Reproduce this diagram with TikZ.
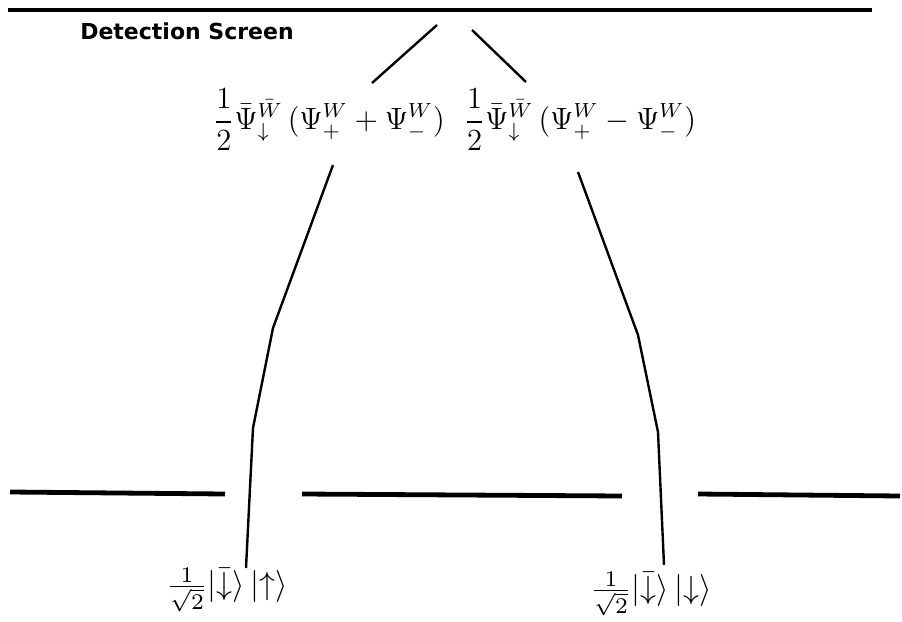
\documentclass[tikz,border=0pt]{standalone}
\usepackage{amsmath}
\usepackage{amssymb}
\usepackage{fontspec}
\newfontfamily\screenfont{DejaVu Sans}
\usetikzlibrary{arrows.meta}
\newcommand{\halfamp}{\frac{1}{2}}
\newcommand{\psibar}{\bar{\Psi}^{\bar{W}}_{\downarrow}}
\newcommand{\bigamp}[1]{\scalebox{1.28}{\large$\displaystyle #1$}}
\newcommand{\bigket}[1]{\scalebox{1.6}{$#1$}}

\begin{document}
\begin{tikzpicture}[x=0.5pt,y=-0.5pt,
  wall/.style={line width=2.4pt},
  ray/.style={line width=1.2pt}]
\useasboundingbox (0,0) rectangle (902,622);
% detection screen
\draw[wall] (8,10) -- (872,10);
\node[font=\screenfont\bfseries\fontsize{11}{13}\selectfont] (scr) at (187,31) {Detection Screen};
% barrier with two slits
\draw[wall] (10,492) -- (225,494);
\draw[wall] (302,494) -- (622,496);
\draw[wall] (698,494) -- (900,496);
% states
\node (up) at (227,590) {\bigket{\frac{1}{\sqrt{2}}\lvert\bar{\downarrow}\rangle\,\lvert\uparrow\rangle}};
\node (dn) at (651,594) {\bigket{\frac{1}{\sqrt{2}}\lvert\bar{\downarrow}\rangle\,\lvert\downarrow\rangle}};
\node (pl) at (329,120) {\bigamp{\halfamp\psibar\,(\Psi^W_+ + \Psi^W_-)}};
\node (mi) at (580,120) {\bigamp{\halfamp\psibar\,(\Psi^W_+ - \Psi^W_-)}};
% paths
\coordinate (l0) at (246,568);
\coordinate (l1) at (253,428);
\coordinate (l2) at (273,328);
\coordinate (l3) at (333,165);
\coordinate (r0) at (664,565);
\coordinate (r1) at (658,432);
\coordinate (r2) at (638,335);
\coordinate (r3) at (578,172);
\draw[ray] (l0) -- (l1) -- (l2) -- (l3);
\draw[ray] (r0) -- (r1) -- (r2) -- (r3);
\coordinate (lb) at (372,83);
\coordinate (lt) at (437,25);
\coordinate (rb) at (526,82);
\coordinate (rt) at (472,30);
\draw[ray] (lb) -- (lt);
\draw[ray] (rb) -- (rt);
\end{tikzpicture}
\end{document}
